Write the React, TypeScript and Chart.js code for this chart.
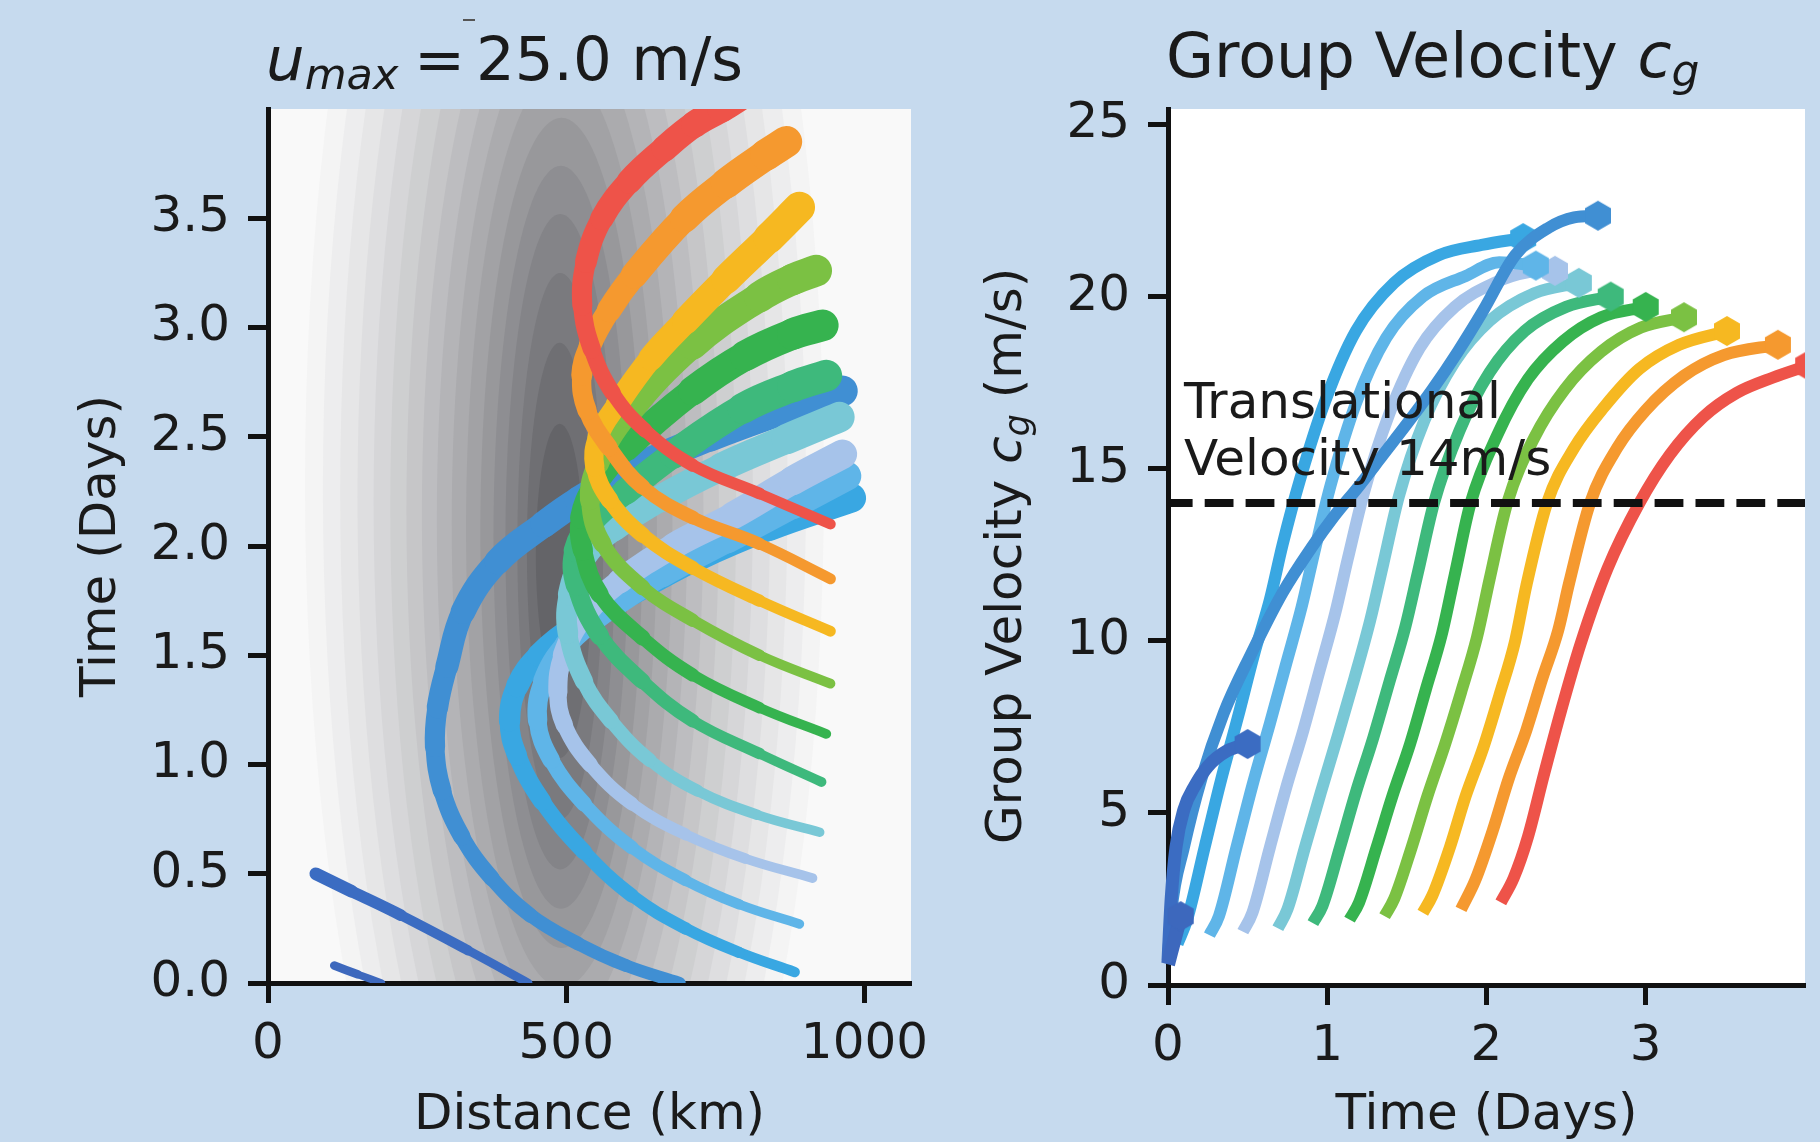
import { useEffect, useRef } from "react";
import { Chart, registerables } from "chart.js";

Chart.register(...registerables);

// ---------------- data ----------------
const rayLabels = [
  "ray 1", "ray 2", "ray 3", "ray 4", "ray 5", "ray 6", "ray 7",
  "ray 8", "ray 9", "ray 10", "ray 11", "ray 12", "ray 13",
];

// Left panel: ray paths, [distance (km), time (days)]
const pathRay01 = [[190, 0.0], [150, 0.04], [111, 0.08]];
const pathRay02 = [[436, 0.0], [335, 0.15], [223, 0.31], [140, 0.42], [80, 0.5]];
const pathRay03 = [[690, 0.0], [600, 0.08], [520, 0.18], [440, 0.31], [375, 0.48], [325, 0.67], [292, 0.88], [280, 1.08], [284, 1.26], [300, 1.45], [327, 1.7], [385, 1.93], [463, 2.1], [521, 2.21], [620, 2.36], [740, 2.5], [860, 2.62], [963, 2.71]];
const pathRay04 = [[883, 0.05], [790, 0.14], [700, 0.25], [610, 0.4], [530, 0.6], [460, 0.83], [418, 1.04], [405, 1.2], [418, 1.36], [455, 1.5], [520, 1.64], [610, 1.79], [720, 1.95], [840, 2.09], [978, 2.22]];
const pathRay05 = [[891, 0.27], [790, 0.36], [700, 0.47], [610, 0.62], [530, 0.82], [475, 1.02], [452, 1.2], [462, 1.38], [500, 1.55], [570, 1.71], [660, 1.87], [770, 2.03], [880, 2.19], [970, 2.32]];
const pathRay06 = [[913, 0.48], [800, 0.57], [700, 0.68], [610, 0.82], [540, 1.0], [497, 1.18], [486, 1.33], [495, 1.5], [530, 1.68], [590, 1.84], [680, 2.0], [780, 2.14], [880, 2.3], [963, 2.42]];
const pathRay07 = [[925, 0.69], [820, 0.77], [720, 0.88], [640, 1.02], [575, 1.2], [530, 1.38], [503, 1.6], [505, 1.78], [530, 1.95], [580, 2.08], [660, 2.22], [760, 2.36], [870, 2.49], [958, 2.59]];
const pathRay08 = [[928, 0.92], [824, 1.05], [712, 1.2], [628, 1.38], [556, 1.59], [517, 1.82], [515, 1.98], [545, 2.12], [600, 2.25], [680, 2.42], [796, 2.63], [880, 2.73], [936, 2.78]];
const pathRay09 = [[936, 1.14], [824, 1.26], [712, 1.41], [628, 1.58], [556, 1.78], [528, 1.98], [525, 2.13], [548, 2.28], [601, 2.45], [712, 2.71], [800, 2.87], [880, 2.97], [930, 3.01]];
const pathRay10 = [[943, 1.37], [824, 1.5], [712, 1.66], [628, 1.81], [561, 2.01], [540, 2.21], [553, 2.38], [601, 2.6], [712, 2.92], [824, 3.14], [880, 3.22], [919, 3.26]];
const pathRay11 = [[943, 1.61], [824, 1.75], [712, 1.9], [628, 2.05], [573, 2.21], [548, 2.36], [553, 2.5], [586, 2.65], [642, 2.86], [700, 3.03], [768, 3.22], [840, 3.41], [891, 3.55]];
const pathRay12 = [[943, 1.85], [824, 2.01], [712, 2.13], [628, 2.27], [572, 2.45], [535, 2.62], [526, 2.78], [540, 2.92], [572, 3.08], [614, 3.24], [698, 3.5], [768, 3.66], [835, 3.79], [869, 3.85]];
const pathRay13 = [[943, 2.1], [824, 2.24], [712, 2.37], [632, 2.53], [578, 2.7], [543, 2.9], [527, 3.1], [533, 3.3], [560, 3.5], [606, 3.67], [665, 3.82], [715, 3.93], [760, 4.0], [800, 4.07]];
const rayPaths = [pathRay01, pathRay02, pathRay03, pathRay04, pathRay05, pathRay06, pathRay07, pathRay08, pathRay09, pathRay10, pathRay11, pathRay12, pathRay13];

// Right panel: group velocity, [time (days), c_g (m/s)]
const cgRay01 = [[0, 0.6], [0.04, 1.3], [0.08, 2.0]];
const cgRay02 = [[0, 0.7], [0.02, 2.5], [0.05, 4.0], [0.1, 5.1], [0.17, 5.8], [0.25, 6.35], [0.37, 6.8], [0.5, 7.0]];
const cgRay03 = [[0, 0.8], [0.02, 2.1], [0.1, 4.0], [0.21, 6.0], [0.35, 7.9], [0.52, 9.6], [0.72, 11.4], [0.9, 12.7], [1.04, 13.6], [1.2, 14.5], [1.35, 15.4], [1.5, 16.3], [1.66, 17.3], [1.82, 18.4], [1.98, 19.6], [2.18, 21.2], [2.39, 22.0], [2.55, 22.3], [2.7, 22.35]];
const cgRay04 = [[0.06, 1.2], [0.12, 1.9], [0.23, 4.0], [0.33, 5.9], [0.44, 7.8], [0.54, 9.6], [0.64, 11.2], [0.72, 12.8], [0.83, 14.7], [0.99, 17.0], [1.18, 19.0], [1.42, 20.4], [1.7, 21.2], [1.97, 21.5], [2.23, 21.7]];
const cgRay05 = [[0.26, 1.45], [0.32, 2.0], [0.43, 4.0], [0.53, 5.8], [0.64, 7.6], [0.74, 9.3], [0.84, 11.0], [0.92, 12.6], [1.02, 14.5], [1.18, 16.9], [1.37, 18.8], [1.6, 20.0], [1.87, 20.6], [2.08, 21.0], [2.31, 20.9]];
const cgRay06 = [[0.47, 1.55], [0.53, 2.1], [0.64, 4.0], [0.74, 5.7], [0.85, 7.4], [0.95, 9.1], [1.05, 10.8], [1.13, 12.4], [1.23, 14.3], [1.39, 16.6], [1.58, 18.5], [1.8, 19.7], [2.05, 20.4], [2.25, 20.7], [2.43, 20.75]];
const cgRay07 = [[0.69, 1.65], [0.75, 2.2], [0.86, 4.0], [0.96, 5.6], [1.07, 7.3], [1.17, 8.9], [1.27, 10.6], [1.35, 12.2], [1.45, 14.2], [1.61, 16.4], [1.8, 18.1], [2.02, 19.3], [2.3, 20.1], [2.58, 20.4]];
const cgRay08 = [[0.91, 1.8], [0.97, 2.3], [1.08, 4.0], [1.18, 5.6], [1.29, 7.2], [1.39, 8.8], [1.49, 10.4], [1.57, 12.0], [1.67, 14.0], [1.83, 16.1], [2.02, 17.8], [2.24, 19.0], [2.5, 19.7], [2.78, 20.0]];
const cgRay09 = [[1.14, 1.9], [1.2, 2.4], [1.31, 4.0], [1.41, 5.5], [1.52, 7.0], [1.62, 8.6], [1.72, 10.2], [1.8, 11.9], [1.9, 14.0], [2.07, 16.0], [2.26, 17.6], [2.48, 18.7], [2.72, 19.4], [3.0, 19.7]];
const cgRay10 = [[1.36, 2.0], [1.42, 2.5], [1.53, 4.0], [1.63, 5.5], [1.74, 7.0], [1.84, 8.5], [1.94, 10.1], [2.02, 11.8], [2.13, 14.0], [2.3, 15.9], [2.49, 17.3], [2.72, 18.4], [2.97, 19.1], [3.24, 19.4]];
const cgRay11 = [[1.6, 2.1], [1.66, 2.6], [1.77, 4.0], [1.87, 5.5], [1.98, 6.9], [2.08, 8.4], [2.18, 10.0], [2.25, 11.6], [2.38, 14.0], [2.55, 15.6], [2.74, 16.8], [2.96, 17.9], [3.21, 18.6], [3.51, 19.0]];
const cgRay12 = [[1.84, 2.2], [1.93, 3.05], [2.04, 4.5], [2.14, 6.0], [2.25, 7.4], [2.35, 8.9], [2.45, 10.3], [2.52, 11.7], [2.65, 14.0], [2.82, 15.6], [3.0, 16.7], [3.24, 17.7], [3.49, 18.3], [3.83, 18.6]];
const cgRay13 = [[2.09, 2.4], [2.17, 3.1], [2.26, 4.3], [2.36, 6.1], [2.47, 8.0], [2.59, 9.9], [2.76, 12.1], [2.96, 14.0], [3.15, 15.4], [3.36, 16.5], [3.57, 17.2], [3.8, 17.65], [4.02, 18.0]];
const rayGroupVelocity = [cgRay01, cgRay02, cgRay03, cgRay04, cgRay05, cgRay06, cgRay07, cgRay08, cgRay09, cgRay10, cgRay11, cgRay12, cgRay13];

const translationalVelocity = 14;
const umax = 25.0;

// Background wind field (filled contour levels, outermost first)
const contourCenterKm = [497, 497, 496, 496, 495, 495, 494, 494, 493, 493, 492, 492, 491, 490, 490, 489, 489];
const contourCenterDay = [2.28, 2.26, 2.24, 2.22, 2.2, 2.18, 2.16, 2.14, 2.12, 2.1, 2.08, 2.06, 2.04, 2.02, 2.0, 1.98, 1.96];
const contourHalfWidthKm = [435, 405, 375, 346, 318, 290, 262, 236, 210, 185, 160, 136, 113, 92, 72, 55, 40];
const contourHalfHeightDay = [4.2, 4.0, 3.8, 3.6, 3.4, 3.2, 2.95, 2.7, 2.5, 2.3, 2.1, 1.9, 1.7, 1.5, 1.25, 0.95, 0.6];

// Tick labels
const distanceTicks = [0, 500, 1000];
const leftTimeTicks = [0, 0.5, 1, 1.5, 2, 2.5, 3, 3.5];
const velocityTicks = [0, 5, 10, 15, 20, 25];
const rightTimeTicks = [0, 1, 2, 3];

// ---------------- styles ----------------
const rayColors = ["#3d68bd", "#3b6cc2", "#408fd3", "#39a7e2", "#5fb5e8", "#a6c3ea", "#79c8d6", "#3eb97c", "#36b34f", "#7bc143", "#f6b821", "#f5992f", "#ee5349"];
const rayWidthRange = [[7, 9], [8, 13], [12, 31], [10, 30], [9, 30], [9, 30], [9, 31], [9, 32], [9, 32], [9, 32], [10, 32], [10, 32], [10, 28]];
const cgLineWidths = [14, 13, 12, 12, 12, 12, 12, 12, 12, 12, 12, 12, 12];
const contourShades = ["#f4f4f4", "#ededee", "#e6e6e7", "#dedee0", "#d6d6d8", "#cecfd0", "#c6c6c8", "#bdbdc0", "#b4b4b7", "#ababae", "#a2a2a5", "#98989b", "#8e8e92", "#848488", "#7a7a7e", "#6f6f73", "#646468"];

const FONT = '"DejaVu Sans", "Liberation Sans", sans-serif';
const INK = "#1a1a1a";
const SPINE = "#111111";
const PAGE_BG = "#c6daee";

function hexagon(color: string, r: number) {
  const c = document.createElement("canvas");
  const w = Math.ceil(r * 2 + 2);
  c.width = w;
  c.height = w;
  const g = c.getContext("2d") as CanvasRenderingContext2D;
  g.fillStyle = color;
  g.beginPath();
  for (let k = 0; k < 6; k++) {
    const a = -Math.PI / 2 + (k * Math.PI) / 3;
    const px = w / 2 + r * Math.cos(a);
    const py = w / 2 + r * Math.sin(a);
    if (k === 0) g.moveTo(px, py);
    else g.lineTo(px, py);
  }
  g.closePath();
  g.fill();
  return c;
}

function makeAxis(o: any) {
  const horizontal = o.position === "bottom";
  return {
    type: "linear",
    position: o.position,
    min: o.min,
    max: o.max,
    z: 1,
    afterFit: (s: any) => {
      if (horizontal) s.height = o.size;
      else s.width = o.size;
    },
    afterBuildTicks: (s: any) => {
      s.ticks = o.ticks.map((value: number) => ({ value }));
    },
    ticks: {
      autoSkip: false,
      maxRotation: 0,
      minRotation: 0,
      includeBounds: false,
      padding: o.pad,
      color: INK,
      font: { family: FONT, size: 50, lineHeight: 1 },
      callback: (v: any) => o.fmt(Number(v)),
    },
    grid: { drawOnChartArea: false, drawTicks: true, tickLength: 20, tickWidth: 5, tickColor: SPINE },
    border: { display: true, width: 5, color: SPINE },
    title: o.title
      ? { display: true, text: o.title, color: INK, font: { family: FONT, size: 50, lineHeight: 1 }, padding: o.titlePad }
      : { display: false },
  };
}

function leftConfig(): any {
  const datasets = rayPaths.map((path, i) => {
    const tStart = path[0][1];
    const tEnd = path[path.length - 1][1];
    const [w0, w1] = rayWidthRange[i];
    const widthAt = (k: number) => {
      const f = (path[k][1] - tStart) / (tEnd - tStart);
      return w0 + (w1 - w0) * Math.min(1, Math.max(0, f));
    };
    return {
      label: rayLabels[i],
      data: path.map(([x, y]) => ({ x, y })),
      borderColor: rayColors[i],
      backgroundColor: rayColors[i],
      borderWidth: w0,
      borderCapStyle: "round",
      borderJoinStyle: "round",
      tension: 0.4,
      pointRadius: 0,
      fill: false,
      clip: 0,
      order: rayPaths.length - i,
      segment: {
        borderWidth: (ctx: any) => (widthAt(ctx.p0DataIndex) + widthAt(ctx.p1DataIndex)) / 2,
      },
    };
  });

  const decor = {
    id: "leftDecor",
    beforeDraw(chart: any) {
      const { ctx, chartArea: a, scales } = chart;
      const x = scales.x;
      const y = scales.y;
      ctx.save();
      ctx.fillStyle = "#f9f9f9";
      ctx.fillRect(a.left, a.top, a.right - a.left, a.bottom - a.top);
      ctx.beginPath();
      ctx.rect(a.left, a.top, a.right - a.left, a.bottom - a.top);
      ctx.clip();
      for (let i = 0; i < contourShades.length; i++) {
        const cx = x.getPixelForValue(contourCenterKm[i]);
        const cy = y.getPixelForValue(contourCenterDay[i]);
        const rx = Math.abs(x.getPixelForValue(contourCenterKm[i] + contourHalfWidthKm[i]) - cx);
        const ry = Math.abs(y.getPixelForValue(contourCenterDay[i] + contourHalfHeightDay[i]) - cy);
        ctx.beginPath();
        ctx.ellipse(cx, cy, rx, ry, 0, 0, Math.PI * 2);
        ctx.fillStyle = contourShades[i];
        ctx.fill();
      }
      ctx.restore();
    },
    afterDraw(chart: any) {
      const ctx = chart.ctx;
      ctx.save();
      ctx.fillStyle = INK;
      ctx.textBaseline = "alphabetic";
      ctx.textAlign = "left";
      ctx.font = `italic 61px ${FONT}`;
      ctx.fillText("u", 266, 80);
      const wu = ctx.measureText("u").width;
      ctx.font = `italic 43px ${FONT}`;
      ctx.fillText("max", 266 + wu, 89);
      ctx.font = `61px ${FONT}`;
      ctx.fillText("=", 414, 80);
      ctx.fillText(`${umax.toFixed(1)} m/s`, 476, 80);
      ctx.fillStyle = "#555";
      ctx.fillRect(463, 19, 12, 2);
      ctx.restore();
    },
  };

  return {
    type: "line",
    data: { datasets },
    options: {
      responsive: false,
      animation: false,
      devicePixelRatio: 1,
      events: [],
      layout: { padding: { left: 0, top: 109, right: 49, bottom: 0 } },
      plugins: { legend: { display: false }, tooltip: { enabled: false }, title: { display: false } },
      scales: {
        x: makeAxis({ position: "bottom", min: 0, max: 1078, ticks: distanceTicks, fmt: (v: number) => String(v), size: 159, pad: 17, title: "Distance (km)", titlePad: { top: 0, bottom: 1 } }),
        y: makeAxis({ position: "left", min: 0, max: 4.0, ticks: leftTimeTicks, fmt: (v: number) => v.toFixed(1), size: 268, pad: 18, title: "Time (Days)", titlePad: { top: 77, bottom: 0 } }),
      },
    },
    plugins: [decor],
  };
}

function rightConfig(): any {
  const datasets: any[] = rayGroupVelocity.map((series, i) => {
    const last = series.length - 1;
    const marker = hexagon(rayColors[i], 15);
    return {
      label: rayLabels[i],
      data: series.map(([x, y]) => ({ x, y })),
      borderColor: rayColors[i],
      backgroundColor: rayColors[i],
      borderWidth: cgLineWidths[i],
      borderCapStyle: "butt",
      cubicInterpolationMode: "monotone",
      pointStyle: marker,
      pointRadius: (c: any) => (c.dataIndex === last ? 15 : 0),
      pointBorderWidth: 0,
      fill: false,
      clip: { left: 12, top: 0, right: 0, bottom: 12 },
      order: i + 1,
    };
  });
  datasets.push({
    label: "Translational velocity",
    data: [{ x: 0, y: translationalVelocity }, { x: 4, y: translationalVelocity }],
    borderColor: SPINE,
    borderWidth: 8,
    borderDash: [28.8, 12.1],
    borderDashOffset: 4.2,
    borderCapStyle: "butt",
    pointRadius: 0,
    fill: false,
    clip: 0,
    order: 0,
  });

  const decor = {
    id: "rightDecor",
    beforeDraw(chart: any) {
      const { ctx, chartArea: a } = chart;
      ctx.save();
      ctx.fillStyle = "#ffffff";
      ctx.fillRect(a.left, a.top, a.right - a.left, a.bottom - a.top);
      ctx.restore();
    },
    afterDraw(chart: any) {
      const { ctx, scales } = chart;
      const x = scales.x;
      const y = scales.y;
      ctx.save();
      ctx.fillStyle = INK;
      ctx.textAlign = "left";
      ctx.textBaseline = "alphabetic";
      // title
      let tx = 256;
      ctx.font = `62px ${FONT}`;
      ctx.fillText("Group Velocity ", tx, 77);
      tx += ctx.measureText("Group Velocity ").width;
      ctx.font = `italic 62px ${FONT}`;
      ctx.fillText("c", tx, 77);
      tx += ctx.measureText("c").width;
      ctx.font = `italic 44px ${FONT}`;
      ctx.fillText("g", tx, 86);
      // y axis label (rotated)
      ctx.save();
      ctx.translate(111, 844);
      ctx.rotate(-Math.PI / 2);
      let lx = 0;
      ctx.font = `50px ${FONT}`;
      ctx.fillText("Group Velocity ", lx, 0);
      lx += ctx.measureText("Group Velocity ").width;
      ctx.font = `italic 50px ${FONT}`;
      ctx.fillText("c", lx, 0);
      lx += ctx.measureText("c").width;
      ctx.font = `italic 35px ${FONT}`;
      ctx.fillText("g", lx, 8);
      lx += ctx.measureText("g").width;
      ctx.font = `50px ${FONT}`;
      ctx.fillText(" (m/s)", lx, 0);
      ctx.restore();
      // annotation
      const ax = x.getPixelForValue(0.1);
      const ay = y.getPixelForValue(14.83);
      ctx.font = `50px ${FONT}`;
      ctx.fillText("Translational", ax, ay - 57);
      ctx.fillText(`Velocity ${translationalVelocity}m/s`, ax, ay);
      ctx.restore();
    },
  };

  return {
    type: "line",
    data: { datasets },
    options: {
      responsive: false,
      animation: false,
      devicePixelRatio: 1,
      events: [],
      layout: { padding: { left: 0, top: 109, right: 9, bottom: 0 } },
      plugins: { legend: { display: false }, tooltip: { enabled: false }, title: { display: false } },
      scales: {
        x: makeAxis({ position: "bottom", min: 0, max: 4.0, ticks: rightTimeTicks, fmt: (v: number) => String(v), size: 157, pad: 17, title: "Time (Days)", titlePad: { top: 0, bottom: 1 } }),
        y: makeAxis({ position: "left", min: 0, max: 25.45, ticks: velocityTicks, fmt: (v: number) => String(v), size: 258, pad: 18 }),
      },
    },
    plugins: [decor],
  };
}

export default function App() {
  const leftRef = useRef<HTMLCanvasElement>(null);
  const rightRef = useRef<HTMLCanvasElement>(null);

  useEffect(() => {
    document.body.style.margin = "0";
    const c1 = new Chart(leftRef.current as HTMLCanvasElement, leftConfig());
    const c2 = new Chart(rightRef.current as HTMLCanvasElement, rightConfig());
    return () => {
      c1.destroy();
      c2.destroy();
    };
  }, []);

  return (
    <div style={{ position: "absolute", left: 0, top: 0, width: 1820, height: 1142, background: PAGE_BG, overflow: "hidden" }}>
      <canvas ref={leftRef} width={960} height={1142} style={{ position: "absolute", left: 0, top: 0, width: 960, height: 1142 }} />
      <canvas ref={rightRef} width={910} height={1142} style={{ position: "absolute", left: 910, top: 0, width: 910, height: 1142 }} />
    </div>
  );
}
